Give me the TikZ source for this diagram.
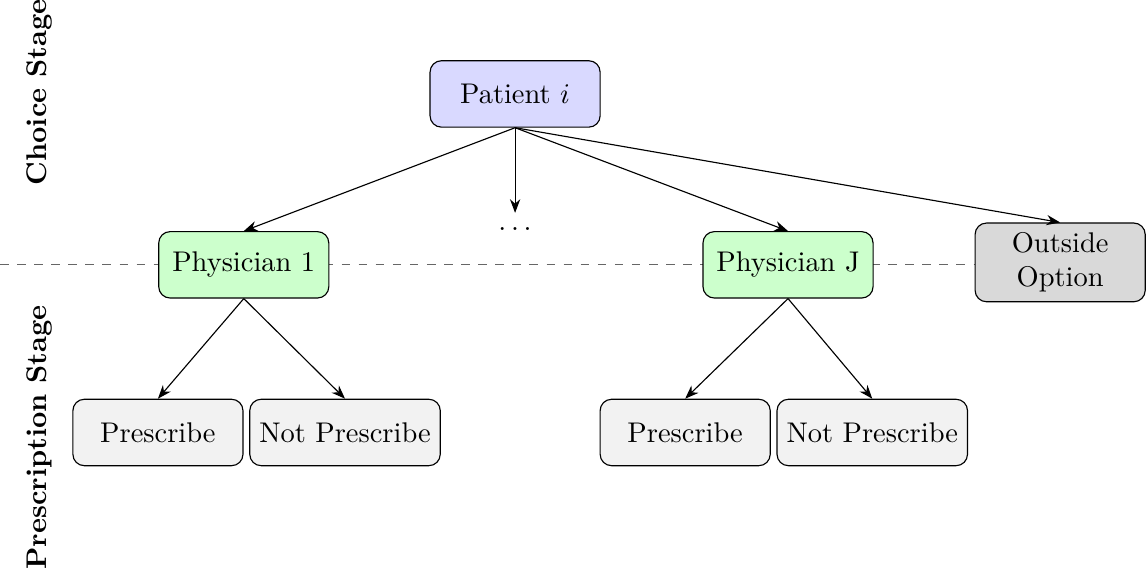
\documentclass[tikz,border=0pt]{standalone}
\usetikzlibrary{arrows.meta,backgrounds}

\begin{document}
\begin{tikzpicture}[>={Stealth},
        box/.style = {draw, rounded corners, minimum width = 2.1cm, minimum height = 0.82cm, align = center},
        patientbox/.style = {box, fill = blue!15},
        physbox/.style = {box, fill = green!20},
        outbox/.style = {box, fill = gray!30, minimum height = 0.88cm},
        choicebox/.style = {box, fill = gray!10},
        stagelabel/.style = {rotate = 90, font = \bfseries}]
        \useasboundingbox (0,0) rectangle (14.15,7.02);

        \node[patientbox] (patient) at (6.36,5.86) {Patient $i$};

        \node[physbox] (phys1) at (3.01,3.75) {Physician 1};
        \node[inner sep = 5pt] (dots) at (6.36,4.19) {$\dots$};
        \node[physbox] (physJ) at (9.73,3.75) {Physician J};
        \node[outbox] (outside) at (13.09,3.78) {Outside\\Option};

        \node[choicebox] (pres1) at (1.95,1.68) {Prescribe};
        \node[choicebox] (notpres1) at (4.26,1.68) {Not Prescribe};
        \node[choicebox] (presJ) at (8.46,1.68) {Prescribe};
        \node[choicebox] (notpresJ) at (10.77,1.68) {Not Prescribe};

        \node[stagelabel] (choicestage) at (0.49,5.88) {Choice Stage};
        \node[stagelabel] (presstage) at (0.49,1.62) {Prescription Stage};

        \coordinate (lineleft) at (0,3.75);

        \draw[->] (patient.south) -- (phys1.north);
        \draw[->] (patient.south) -- (dots.north);
        \draw[->] (patient.south) -- (physJ.north);
        \draw[->] (patient.south) -- (outside.north);

        \draw[->] (phys1.south) -- (pres1.north);
        \draw[->] (phys1.south) -- (notpres1.north);
        \draw[->] (physJ.south) -- (presJ.north);
        \draw[->] (physJ.south) -- (notpresJ.north);

    \begin{scope}[on background layer]
        \draw[dashed, gray!80!black] (lineleft) -- (lineleft -| outside.west);
    \end{scope}

\end{tikzpicture}
\end{document}
